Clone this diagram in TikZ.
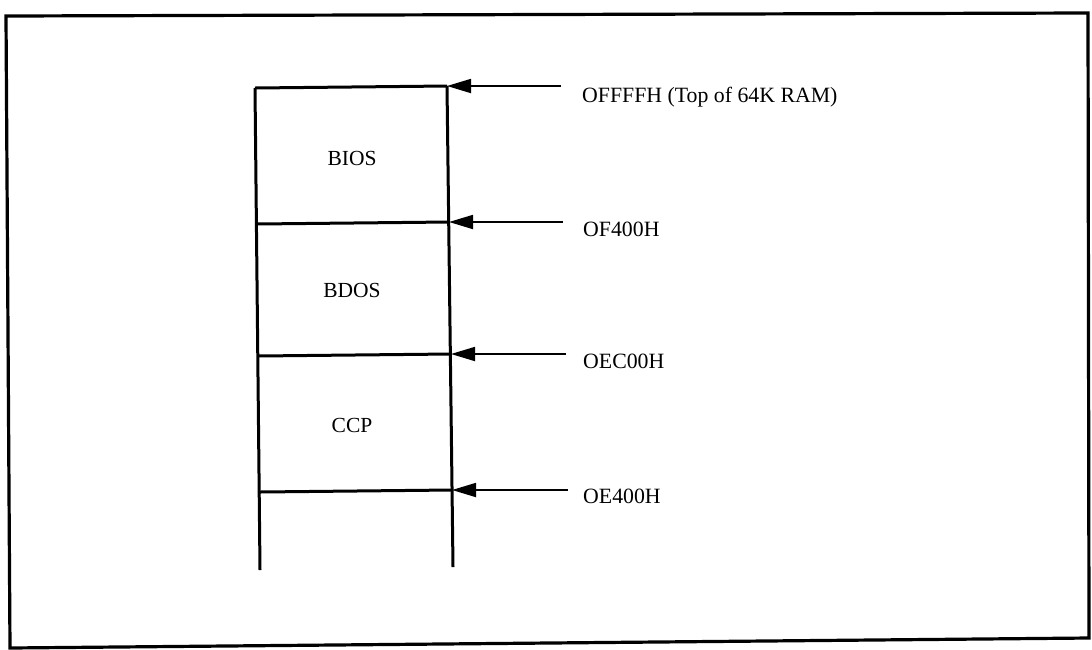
\documentclass[tikz,border=0pt]{standalone}
\usepackage{fontspec}
\setmainfont{Liberation Serif}
\usetikzlibrary{arrows.meta}
\begin{document}
\begin{tikzpicture}[x=1pt,y=-1pt,
  wall/.style={line width=3pt},
  lbl/.style={font=\fontsize{21.8}{24}\selectfont, anchor=base west, inner sep=0pt},
  blk/.style={font=\fontsize{21.5}{24}\selectfont, inner sep=0pt},
  ptr/.style={line width=1.8pt, -{Triangle[length=24pt,width=14pt]}}]
\useasboundingbox (0,0) rectangle (1092,649);
% frame
\draw[line width=3.2pt] (6,16) -- (1088,13) -- (1089,638) -- (10,648) -- cycle;
% walls
\coordinate (l0) at (255,88);  \coordinate (r0) at (447,86);
\coordinate (l1) at (257,224); \coordinate (r1) at (449,222);
\coordinate (l2) at (258,356); \coordinate (r2) at (451,354);
\coordinate (l3) at (260,492); \coordinate (r3) at (452,490);
\coordinate (lb) at (260,570); \coordinate (rb) at (453,567);
\draw[wall] (l0) -- (lb);
\draw[wall] (r0) -- (rb);
\draw[wall] (l0) -- (r0);
\draw[wall] (l1) -- (r1);
\draw[wall] (l2) -- (r2);
\draw[wall] (l3) -- (r3);
% block labels
\node[blk] (bios) at (352,158) {BIOS};
\node[blk] (bdos) at (352,290) {BDOS};
\node[blk] (ccp)  at (352,425) {CCP};
% address labels
\node[lbl] (a0) at (582,102) {OFFFFH (Top of 64K RAM)};
\node[lbl] (a1) at (583,236) {OF400H};
\node[lbl] (a2) at (583,368) {OEC00H};
\node[lbl] (a3) at (583,503) {OE400H};
% arrow tails
\coordinate (t0) at (561,86);
\coordinate (t1) at (563,222);
\coordinate (t2) at (566,354);
\coordinate (t3) at (568,490);
\draw[ptr] (t0) -- (r0);
\draw[ptr] (t1) -- (r1);
\draw[ptr] (t2) -- (r2);
\draw[ptr] (t3) -- (r3);
\end{tikzpicture}
\end{document}
